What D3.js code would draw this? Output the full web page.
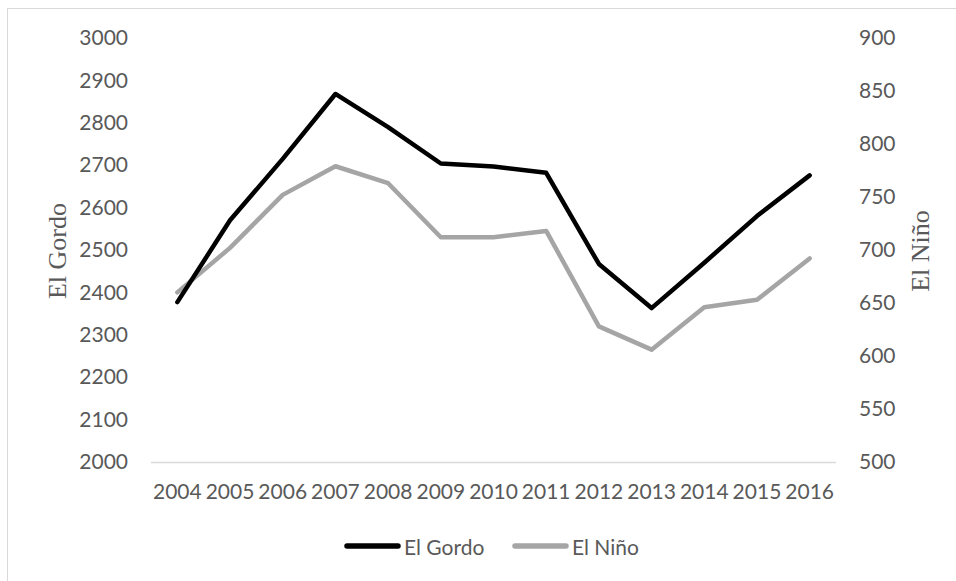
<!DOCTYPE html>
<html>
<head>
<meta charset="utf-8">
<script src="https://cdn.jsdelivr.net/npm/d3@7"></script>
<style>
  html, body { margin: 0; padding: 0; background: #fff; }
  svg { display: block; }
</style>
</head>
<body>
<div id="chart"></div>
<script>
/* ============================
   DATA
============================ */
const years = ["2004","2005","2006","2007","2008","2009","2010","2011","2012","2013","2014","2015","2016"];
const gordo = [2377, 2570, 2715, 2868, 2790, 2704, 2697, 2682, 2467, 2363, 2470, 2580, 2676];
const nino  = [660, 702, 752, 779, 763, 712, 712, 718, 628, 606, 646, 653, 692];
const leftTicks = [2000, 2100, 2200, 2300, 2400, 2500, 2600, 2700, 2800, 2900, 3000];
const rightTicks = [500, 550, 600, 650, 700, 750, 800, 850, 900];

/* ============================
   LAYOUT
============================ */
const W = 956, H = 581;
const plot = { left: 151, right: 836, top: 38, bottom: 462 };
const tickFont = 'Lato, "Open Sans", sans-serif';
const titleFont = '"Liberation Serif", "Times New Roman", serif';
const textColor = "#595959";

const svg = d3.select("#chart").append("svg")
  .attr("width", W)
  .attr("height", H);

// marco del gráfico
svg.append("rect")
  .attr("x", 7.5).attr("y", 8.5)
  .attr("width", W + 10).attr("height", H + 10)
  .attr("fill", "none")
  .attr("stroke", "#d9d9d9");

const x = d3.scaleBand().domain(years).range([plot.left, plot.right]);
const yL = d3.scaleLinear().domain([2000, 3000]).range([plot.bottom, plot.top]);
const yR = d3.scaleLinear().domain([500, 900]).range([plot.bottom, plot.top]);

/* ============================
   AXES
============================ */
const axisL = svg.append("g")
  .attr("transform", `translate(128,0)`)
  .call(d3.axisLeft(yL).tickValues(leftTicks).tickFormat(d3.format("d")).tickSize(0).tickPadding(0));

const axisR = svg.append("g")
  .attr("transform", `translate(859,0)`)
  .call(d3.axisRight(yR).tickValues(rightTicks).tickFormat(d3.format("d")).tickSize(0).tickPadding(0));

const axisX = svg.append("g")
  .attr("transform", `translate(0,${plot.bottom})`)
  .call(d3.axisBottom(x).tickSize(0).tickPadding(0));

[axisL, axisR, axisX].forEach(a => {
  a.select(".domain").remove();
  a.selectAll("text")
    .attr("fill", textColor)
    .style("font-family", tickFont)
    .style("font-size", "21px");
});
axisX.selectAll("text").attr("y", 30).attr("dy", "0.32em");

// línea base
svg.append("line")
  .attr("x1", plot.left).attr("x2", plot.right)
  .attr("y1", plot.bottom + 0.5).attr("y2", plot.bottom + 0.5)
  .attr("stroke", "#d9d9d9")
  .attr("stroke-width", 1.5);

// títulos de ejes
svg.append("text")
  .attr("transform", `translate(66,251) rotate(-90)`)
  .attr("text-anchor", "middle")
  .attr("fill", textColor)
  .style("font-family", titleFont)
  .style("font-size", "26px")
  .text("El Gordo");

svg.append("text")
  .attr("transform", `translate(929,251) rotate(-90)`)
  .attr("text-anchor", "middle")
  .attr("fill", textColor)
  .style("font-family", titleFont)
  .style("font-size", "26px")
  .text("El Niño");

/* ============================
   LINES
============================ */
const cx = d => x(d) + x.bandwidth() / 2;

const lineL = d3.line().x((d, i) => cx(years[i])).y(d => yL(d));
const lineR = d3.line().x((d, i) => cx(years[i])).y(d => yR(d));

svg.append("path")
  .datum(nino)
  .attr("d", lineR)
  .attr("fill", "none")
  .attr("stroke", "#a5a5a5")
  .attr("stroke-width", 4.5)
  .attr("stroke-linejoin", "round")
  .attr("stroke-linecap", "round");

svg.append("path")
  .datum(gordo)
  .attr("d", lineL)
  .attr("fill", "none")
  .attr("stroke", "#000")
  .attr("stroke-width", 4.5)
  .attr("stroke-linejoin", "round")
  .attr("stroke-linecap", "round");

/* ============================
   LEGEND
============================ */
const legendItems = [
  { name: "El Gordo", color: "#000", x: 347 },
  { name: "El Niño", color: "#a5a5a5", x: 515 }
];
const ly = 546;

legendItems.forEach(it => {
  svg.append("line")
    .attr("x1", it.x).attr("x2", it.x + 51)
    .attr("y1", ly).attr("y2", ly)
    .attr("stroke", it.color)
    .attr("stroke-width", 5.5)
    .attr("stroke-linecap", "round");
  svg.append("text")
    .attr("x", it.x + 57)
    .attr("y", ly)
    .attr("dominant-baseline", "central")
    .attr("fill", textColor)
    .style("font-family", tickFont)
    .style("font-size", "21px")
    .text(it.name);
});
</script>
</body>
</html>
